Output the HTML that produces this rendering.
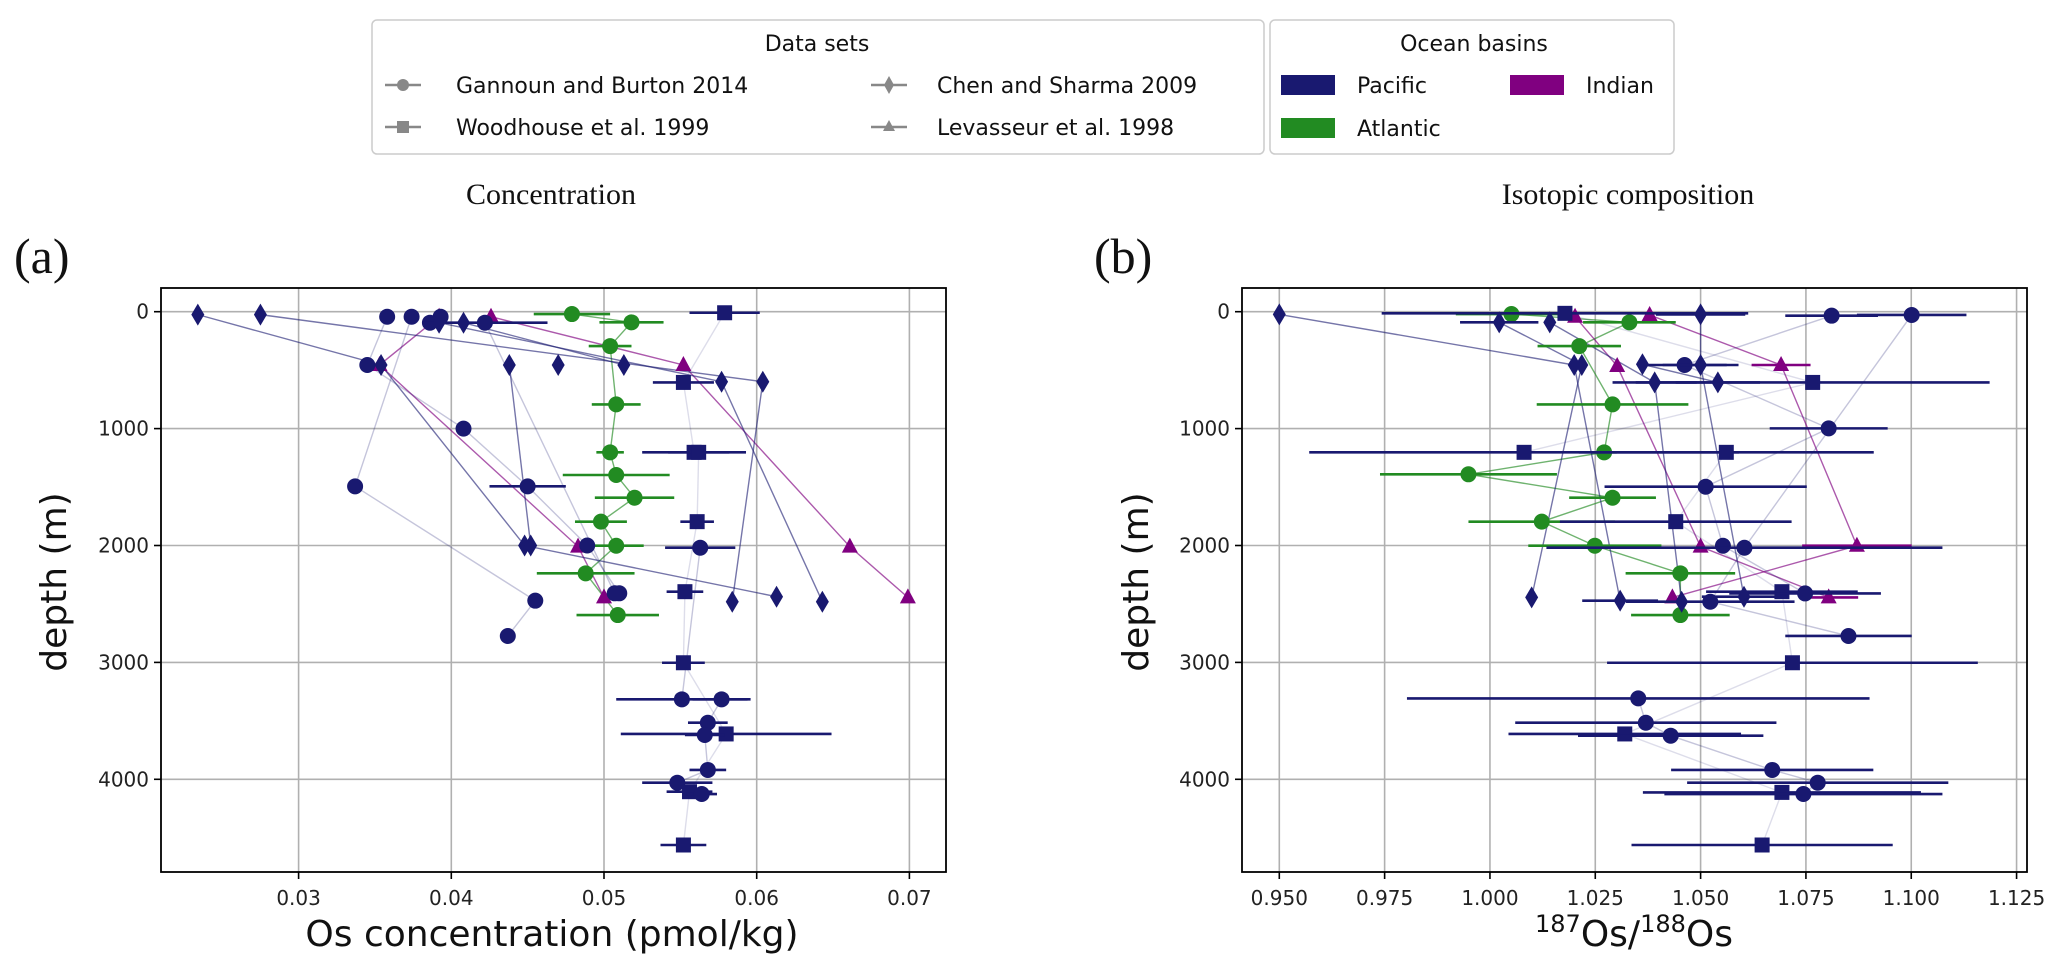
<!DOCTYPE html>
<html><head><meta charset="utf-8"><style>
html,body{margin:0;padding:0;background:#fff}
svg{display:block}
.tick{font-family:"DejaVu Sans","Liberation Sans",sans-serif;font-size:20px;fill:#222}
.lg{font-family:"DejaVu Sans","Liberation Sans",sans-serif;font-size:22px;fill:#111}
.serif{font-family:"Liberation Serif",serif;fill:#111}
.axt{font-family:"DejaVu Sans","Liberation Sans",sans-serif;font-size:36px;fill:#111}
</style></head><body>
<svg id="fig" width="2067" height="973" viewBox="0 0 2067 973" xmlns="http://www.w3.org/2000/svg">
<g>
<rect x="372" y="20" width="892" height="134" rx="5" fill="#fff" stroke="#ccc" stroke-width="1.5"/>
<text class="lg" x="817" y="51" text-anchor="middle">Data sets</text>
<g><line x1="385" y1="85" x2="421" y2="85" stroke="#888" stroke-width="2.5"/><circle cx="403" cy="85" r="6" fill="#888"/><text class="lg" x="456" y="93">Gannoun and Burton 2014</text></g>
<g><line x1="385" y1="127" x2="421" y2="127" stroke="#888" stroke-width="2.5"/><rect x="397" y="121" width="12" height="12" fill="#888"/><text class="lg" x="456" y="135">Woodhouse et al. 1999</text></g>
<g><line x1="871" y1="85" x2="907" y2="85" stroke="#888" stroke-width="2.5"/><polygon points="889,76 894,85 889,94 884,85" fill="#888"/><text class="lg" x="937" y="93">Chen and Sharma 2009</text></g>
<g><line x1="871" y1="127" x2="907" y2="127" stroke="#888" stroke-width="2.5"/><polygon points="889,120 895,131 883,131" fill="#888"/><text class="lg" x="937" y="135">Levasseur et al. 1998</text></g>
</g>
<g>
<rect x="1270" y="20" width="404" height="134" rx="5" fill="#fff" stroke="#ccc" stroke-width="1.5"/>
<text class="lg" x="1474" y="51" text-anchor="middle">Ocean basins</text>
<g><rect x="1281" y="75" width="54" height="20" fill="#191970"/><text class="lg" x="1357" y="93">Pacific</text></g>
<g><rect x="1281" y="118" width="54" height="20" fill="#228b22"/><text class="lg" x="1357" y="136">Atlantic</text></g>
<g><rect x="1510" y="75" width="54" height="20" fill="#800080"/><text class="lg" x="1586" y="93">Indian</text></g>
</g>
<text class="serif" x="551" y="204" font-size="30" text-anchor="middle">Concentration</text>
<text class="serif" x="1628" y="204" font-size="30" text-anchor="middle">Isotopic composition</text>
<text class="serif" x="14" y="273" font-size="50">(a)</text>
<text class="serif" x="1094" y="273" font-size="50">(b)</text>
<g id="pa"></g>
<g id="pb"></g>
<text class="axt" x="552" y="946" text-anchor="middle">Os concentration (pmol/kg)</text>
<text class="axt" x="1634" y="946" text-anchor="middle"><tspan font-size="24" dy="-14">187</tspan><tspan dy="14">Os/</tspan><tspan font-size="24" dy="-14">188</tspan><tspan dy="14">Os</tspan></text>
<text class="axt" transform="translate(66,582) rotate(-90)" text-anchor="middle" font-size="38">depth (m)</text>
<text class="axt" transform="translate(1148,582) rotate(-90)" text-anchor="middle" font-size="38">depth (m)</text>
</svg>
<script>
// ---------- Panel (a) data: Os concentration ----------
const aValue = [0.0479,0.0518,0.0504,0.0508,0.0504,0.0508,0.0520,0.0498,0.0508,0.0488,0.0509,
 0.0392,0.0353,0.0483,0.0500, 0.0426,0.0552,0.0661,0.0699,
 0.0579,0.0552,0.0559,0.0562,0.0561,0.0553,0.0552,0.0580,0.0556,0.0552,
 0.0358,0.0345,0.0408,0.0450,0.0489,0.0510, 0.0374,0.0337,0.0455,0.0437, 0.0393,0.0386,0.0422,0.0507,
 0.0563,0.0551,0.0577,0.0568,0.0566,0.0568,0.0548,0.0564,
 0.0234,0.0354,0.0448,0.0613, 0.0275,0.0604,0.0584, 0.0392,0.0577,0.0643, 0.0408,0.0513, 0.0438,0.0452, 0.0470];
const aDepth = [20,91,294,793,1203,1397,1591,1796,2002,2238,2595,
 43,456,2010,2444, 43,456,2010,2444,
 9,605,1203,1203,1796,2395,3003,3612,4106,4562,
 43,456,1000,1494,2000,2409, 43,1494,2472,2774, 43,94,94,2409,
 2019,3316,3316,3516,3621,3920,4029,4126,
 25,456,2000,2438, 25,599,2481, 94,599,2481, 94,456, 456,2000, 456];
const aErr = [0.0025,0.0021,0.0014,0.0016,0.0009,0.0035,0.0026,0.0017,0.0018,0.0032,0.0027,
 0,0,0,0, 0,0,0,0,
 0.0023,0.0020,0.0034,0.0020,0.0011,0.0012,0.0014,0.0069,0.0015,0.0015,
 0,0,0,0.0025,0,0, 0,0,0,0, 0,0,0.0041,0,
 0.0023,0.0043,0.0019,0.0013,0.0013,0.0012,0.0023,0.0010,
 0,0,0,0, 0,0,0, 0,0,0, 0,0, 0,0, 0];
const aMarker = "o".repeat(11)+"^".repeat(8)+"s".repeat(10)+"o".repeat(22)+"d".repeat(15);
const aBasin  = "A".repeat(11)+"I".repeat(8)+"P".repeat(47);
const aProfile = [1,1,1,1,1,1,1,1,1,1,1, 2,2,2,2, 3,3,3,3,
 4,4,4,4,4,4,4,4,4,4,
 5,5,5,5,5,5, 6,6,6,6, 7,7,7,7,
 8,8,8,8,8,8,8,8,
 9,9,9,9, 10,10,10, 11,11,11, 12,12, 13,13, 14];

// ---------- Panel (b) data: 187Os/188Os ----------
const bValue = [1.0051,1.0331,1.0212,1.0291,1.0271,0.9949,1.0291,1.0123,1.0249,1.0452,1.0452,
 1.0202,1.0302,1.0500,1.0804, 1.0379,1.0691,1.0871,1.0433,
 1.0178,1.0766,1.0081,1.0561,1.0441,1.0693,1.0718,1.0320,1.0693,1.0646,
 1.0811,1.0462,1.0804,1.0512,1.0553,1.0748, 1.1001,1.0604,1.0523,1.0851,
 1.0352,1.0370,1.0429,1.0670,1.0778,1.0744,
 0.9500,1.0200,1.0309, 1.0022,1.0218,1.0099, 1.0142,1.0391,1.0455, 1.0500,1.0500,1.0603, 1.0362,1.0541];
const bDepth = [20,91,294,793,1203,1391,1591,1796,2002,2238,2595,
 43,465,2010,2444, 28,456,2002,2444,
 14,605,1203,1203,1796,2395,3003,3612,4112,4562,
 34,456,998,1497,2002,2410, 28,2019,2481,2774,
 3308,3516,3627,3920,4029,4126,
 23,456,2472, 91,456,2444, 91,605,2481, 23,456,2438, 450,605];
const bErr = [0.0132,0.011,0.0099,0.018,0.003,0.021,0.0103,0.0174,0.0158,0.013,0.0117,
 0,0,0,0.007, 0,0.007,0.013,0,
 0.0435,0.042,0.051,0.035,0.0275,0.018,0.044,0.0276,0.033,0.031,
 0.011,0.01,0.014,0.024,0,0.018, 0.013,0.047,0.02,0.015,
 0.0549,0.031,0.022,0.024,0.031,0.033,
 0,0,0.009, 0.0093,0,0, 0,0.01,0, 0.0106,0.009,0.01, 0,0.01];
const bMarker = "o".repeat(11)+"^".repeat(8)+"s".repeat(10)+"o".repeat(16)+"d".repeat(14);
const bBasin  = "A".repeat(11)+"I".repeat(8)+"P".repeat(40);
const bProfile = [1,1,1,1,1,1,1,1,1,1,1, 2,2,2,2, 3,3,3,3,
 4,4,4,4,4,4,4,4,4,4,
 5,5,5,5,5,5, 6,6,6,6,
 7,7,7,7,7,7,
 9,9,9, 10,10,10, 11,11,11, 12,12,12, 13,13];

const aTicks = [0.03,0.04,0.05,0.06,0.07];
const aTickLabels = ["0.03","0.04","0.05","0.06","0.07"];
const bTicks = [0.950,0.975,1.000,1.025,1.050,1.075,1.100,1.125];
const bTickLabels = ["0.950","0.975","1.000","1.025","1.050","1.075","1.100","1.125"];
const yTicks = [0,1000,2000,3000,4000];
const yTickLabels = ["0","1000","2000","3000","4000"];

const NS="http://www.w3.org/2000/svg";
const COL={P:"#191970",A:"#228b22",I:"#800080"};
const yScale=d=>311.7+d*0.1169;
const aX=v=>604+(v-0.05)*15270;
const bX=v=>1279.3+(v-0.95)*4213;
function mk(tag,attrs,parent){const e=document.createElementNS(NS,tag);for(const k in attrs)e.setAttribute(k,attrs[k]);parent.appendChild(e);return e;}

function drawPanel(g,L,R,xs,ticks,tickLabels,vals,deps,errs,markers,basins,profiles,pfx){
  const T=288,B=872;
  const grid=mk('g',{},g);
  
  
  ticks.forEach((t,i)=>{const x=xs(t);
    mk('line',{x1:x,x2:x,y1:T,y2:B,stroke:'#b0b0b0','stroke-width':1.6},grid);
    mk('line',{x1:x,x2:x,y1:B,y2:B+7,stroke:'#000','stroke-width':1.6},g);
    const tx=mk('text',{x:x,y:905,'text-anchor':'middle',class:'tick'},g);tx.textContent=tickLabels[i];
    
    
  });
  yTicks.forEach((t,i)=>{const y=yScale(t);
    mk('line',{x1:L,x2:R,y1:y,y2:y,stroke:'#b0b0b0','stroke-width':1.6},grid);
    mk('line',{x1:L-7,x2:L,y1:y,y2:y,stroke:'#000','stroke-width':1.6},g);
    const tx=mk('text',{x:L-12,y:y+7,'text-anchor':'end',class:'tick'},g);tx.textContent=yTickLabels[i];
    
    
  });
  const groups={};
  vals.forEach((v,i)=>{(groups[profiles[i]]=groups[profiles[i]]||[]).push(i);});
  const lines=mk('g',{},g);
  
  
  Object.keys(groups).forEach(k=>{const idx=groups[k].slice().sort((a,b)=>deps[a]-deps[b]);
    if(idx.length<2)return;const i0=idx[0];
    const op=markers[i0]==='d'?0.6:markers[i0]==='s'?0.15:markers[i0]==='o'&&basins[i0]==='P'?0.25:0.65;
    const pl=mk('polyline',{points:idx.map(i=>xs(vals[i])+','+yScale(deps[i])).join(' '),fill:'none',stroke:COL[basins[i0]],'stroke-width':1.4,'stroke-opacity':op},lines);
    
    
  });
  const pts=mk('g',{},g);
  
  
  vals.forEach((v,i)=>{const x=xs(v),y=yScale(deps[i]),c=COL[basins[i]];
    if(errs[i]>0){const eb=mk('line',{x1:xs(v-errs[i]),x2:xs(v+errs[i]),y1:y,y2:y,stroke:c,'stroke-width':2.6},pts);
      
      }
    let m;const s=markers[i];
    if(s==='o')m=mk('circle',{cx:x,cy:y,r:8,fill:c},pts);
    else if(s==='s')m=mk('rect',{x:x-7.5,y:y-7.5,width:15,height:15,fill:c},pts);
    else if(s==='d')m=mk('polygon',{points:`${x},${y-11} ${x+6.5},${y} ${x},${y+11} ${x-6.5},${y}`,fill:c},pts);
    else m=mk('polygon',{points:`${x},${y-9} ${x+8},${y+6} ${x-8},${y+6}`,fill:c},pts);
    
    
  });
  const fr=mk('rect',{x:L,y:T,width:R-L,height:B-T,fill:'none',stroke:'#000','stroke-width':1.8},g);
  
  
}
drawPanel(document.getElementById('pa'),161,946,aX,aTicks,aTickLabels,aValue,aDepth,aErr,aMarker,aBasin,aProfile,'panel-a');
drawPanel(document.getElementById('pb'),1242,2027,bX,bTicks,bTickLabels,bValue,bDepth,bErr,bMarker,bBasin,bProfile,'panel-b');
</script>
</body></html>
